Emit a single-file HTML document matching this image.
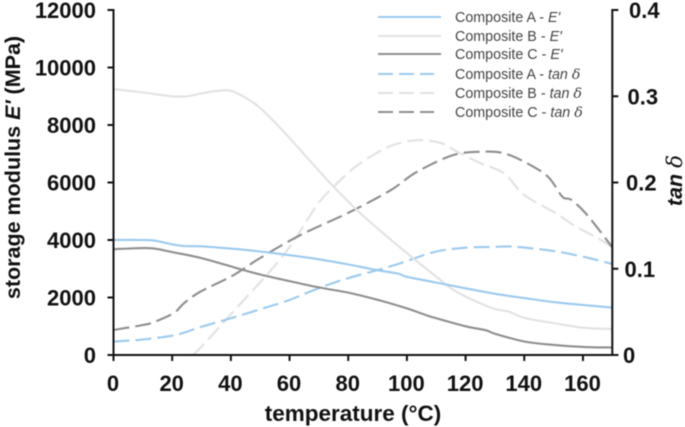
<!DOCTYPE html>
<html lang="en">
<head>
<meta charset="utf-8">
<title>Storage modulus and tan delta vs temperature</title>
<style>
html,body{margin:0;padding:0;background:#fff;width:685px;height:427px;overflow:hidden}
svg{display:block;filter:blur(0.45px)}
text{font-family:"Liberation Sans",Arial,sans-serif;fill:#111}
.tick{font-size:22px;font-weight:700}
.title{font-size:21.5px;font-weight:700}
.xtitle{font-size:22.5px;font-weight:700}
.leg{font-size:14.3px;fill:#444}
</style>
</head>
<body>
<svg id="chart" width="685" height="427" viewBox="0 0 685 427" xmlns="http://www.w3.org/2000/svg">
  <text class="title" transform="translate(20 167.5) rotate(-90)" text-anchor="middle">storage modulus <tspan font-style="italic">E'</tspan> (MPa)</text>
  <text class="title" transform="translate(682 180.5) rotate(-90)" text-anchor="middle" font-style="italic">tan <tspan font-family="'DejaVu Serif',serif" font-weight="400">δ</tspan></text>
  <text class="xtitle" x="353" y="421" text-anchor="middle">temperature (°C)</text>
  <g id="series"></g>
  <g id="axes"></g>
  <g id="legend"></g>
</svg>
<script>
const xTicks = [0, 20, 40, 60, 80, 100, 120, 140, 160];
const leftTicks = [0, 2000, 4000, 6000, 8000, 10000, 12000];
const rightTicks = [0, 0.1, 0.2, 0.3, 0.4];
const rightTickLabels = ['0', '0.1', '0.2', '0.3', '0.4'];

const tempA_E = [0, 10, 14, 20, 24, 30, 40, 50, 60, 70, 80, 90, 97, 100, 110, 120, 130, 140, 150, 160, 170];
const modA_E = [4000, 4000, 3980, 3850, 3790, 3780, 3700, 3600, 3470, 3330, 3150, 2950, 2830, 2720, 2520, 2320, 2130, 1980, 1840, 1740, 1650];

const tempB_E = [0, 10, 20, 25, 30, 35, 40, 45, 50, 58, 70, 75, 83, 90, 102, 110, 115, 120, 125, 130, 135, 140, 150, 160, 170];
const modB_E = [9250, 9130, 9000, 9000, 9100, 9180, 9190, 8950, 8590, 7767, 6409, 5854, 5040, 4400, 3374, 2724, 2320, 2030, 1800, 1600, 1500, 1290, 1110, 950, 900];

const tempC_E = [0, 10, 14, 20, 30, 40, 50, 60, 70, 80, 90, 100, 107, 110, 120, 127, 130, 140, 150, 160, 170];
const modC_E = [3680, 3720, 3700, 3580, 3370, 3080, 2800, 2570, 2350, 2170, 1920, 1620, 1370, 1280, 1000, 860, 740, 470, 350, 280, 260];

const tempA_T = [0, 10, 20, 25, 30, 40, 50, 60, 70, 80, 90, 97, 100, 110, 120, 130, 135, 140, 150, 160, 170];
const tanA = [0.0155, 0.018, 0.0224, 0.027, 0.0328, 0.0425, 0.053, 0.0638, 0.0776, 0.089, 0.0985, 0.1055, 0.109, 0.12, 0.1244, 0.1255, 0.1258, 0.1245, 0.1206, 0.114, 0.1055];

const tempB_T = [27, 30, 40.4, 58, 69.4, 75, 82, 88.6, 95.4, 103.5, 111.4, 117, 125, 133, 140, 151, 157, 165, 170];
const tanB = [0, 0.0096, 0.0487, 0.116, 0.174, 0.195, 0.217, 0.232, 0.2435, 0.249, 0.246, 0.236, 0.2224, 0.211, 0.1855, 0.164, 0.15, 0.1355, 0.125];

const tempC_T = [0, 10, 13.7, 20.6, 24, 29.6, 41, 50, 63.7, 80.7, 94.4, 103.5, 116, 126, 133, 140, 148, 153, 156, 161.5, 170];
const tanC = [0.029, 0.0348, 0.038, 0.0487, 0.06, 0.0734, 0.0928, 0.1125, 0.139, 0.166, 0.191, 0.2125, 0.232, 0.2357, 0.234, 0.224, 0.207, 0.1835, 0.18, 0.162, 0.125];

const legendLabels = ['Composite A - ', 'Composite B - ', 'Composite C - ', 'Composite A - ', 'Composite B - ', 'Composite C - '];

const NS = 'http://www.w3.org/2000/svg';
const X0 = 113.5, X1 = 612.3, Y0 = 355, Y1 = 10;
const sx = v => X0 + (v / 170) * (X1 - X0);
const syL = v => Y0 - (v / 12000) * (Y0 - Y1);
const syR = v => Y0 - (v / 0.4) * (Y0 - Y1);

function mk(tag, attrs, parent) {
  const el = document.createElementNS(NS, tag);
  for (const k in attrs) el.setAttribute(k, attrs[k]);
  parent.appendChild(el);
  return el;
}

/* Smooth curve through the mapped data points (Catmull-Rom to Bezier). */
function smoothPath(xs, ys, scale) {
  const p = xs.map((x, i) => [sx(x), scale(ys[i])]);
  let d = 'M' + p[0][0].toFixed(1) + ' ' + p[0][1].toFixed(1);
  for (let i = 0; i < p.length - 1; i++) {
    const a = p[Math.max(i - 1, 0)], b = p[i], c = p[i + 1], e = p[Math.min(i + 2, p.length - 1)];
    const c1x = b[0] + (c[0] - a[0]) / 6, c1y = b[1] + (c[1] - a[1]) / 6;
    const c2x = c[0] - (e[0] - b[0]) / 6, c2y = c[1] - (e[1] - b[1]) / 6;
    d += 'C' + c1x.toFixed(1) + ' ' + c1y.toFixed(1) + ' ' + c2x.toFixed(1) + ' ' + c2y.toFixed(1) + ' ' + c[0].toFixed(1) + ' ' + c[1].toFixed(1);
  }
  return d;
}

const BLUE = '#9ccaee', LIGHT = '#e2e2e2', DARK = '#8e8e8e';
const seriesGroup = document.getElementById('series');
const seriesDefs = [
  { name: 'composite-b-tan-delta', xs: tempB_T, ys: tanB, scale: syR, color: LIGHT, dash: '16 6' },
  { name: 'composite-a-tan-delta', xs: tempA_T, ys: tanA, scale: syR, color: BLUE, dash: '16 6' },
  { name: 'composite-c-tan-delta', xs: tempC_T, ys: tanC, scale: syR, color: DARK, dash: '16 6' },
  { name: 'composite-b-modulus', xs: tempB_E, ys: modB_E, scale: syL, color: LIGHT, dash: '' },
  { name: 'composite-a-modulus', xs: tempA_E, ys: modA_E, scale: syL, color: BLUE, dash: '' },
  { name: 'composite-c-modulus', xs: tempC_E, ys: modC_E, scale: syL, color: DARK, dash: '' }
];
seriesDefs.forEach(s => {
  const line = mk('path', { d: smoothPath(s.xs, s.ys, s.scale), fill: 'none', stroke: s.color, 'stroke-width': 2.1, 'stroke-linejoin': 'round' }, seriesGroup);
  if (s.dash) line.setAttribute('stroke-dasharray', s.dash);
  
  
});

const axes = document.getElementById('axes');
const axisStyle = { stroke: '#111', 'stroke-width': 2 };
const leftAxis = mk('line', { x1: X0, x2: X0, y1: Y1 - 1, y2: Y0 + 6, ...axisStyle }, axes);


const rightAxis = mk('line', { x1: X1, x2: X1, y1: Y1 - 1, y2: Y0 + 1, ...axisStyle }, axes);


const xAxis = mk('line', { x1: X0 - 6, x2: X1 + 6, y1: Y0, y2: Y0, ...axisStyle }, axes);



xTicks.forEach(v => {
  mk('line', { x1: sx(v), x2: sx(v), y1: Y0, y2: Y0 + 6, ...axisStyle }, axes);
  const t = mk('text', { class: 'tick', x: sx(v) - 0.5, y: 391, 'text-anchor': 'middle' }, axes);
  t.textContent = v;
  
  
});
leftTicks.forEach(v => {
  mk('line', { x1: X0 - 6, x2: X0, y1: syL(v), y2: syL(v), ...axisStyle }, axes);
  const t = mk('text', { class: 'tick', x: 96, y: syL(v) + 8, 'text-anchor': 'end' }, axes);
  t.textContent = v;
  
  
});
rightTicks.forEach((v, i) => {
  mk('line', { x1: X1, x2: X1 + 6, y1: syR(v), y2: syR(v), ...axisStyle }, axes);
  const t = mk('text', { class: 'tick', x: 623 + v * 15, y: syR(v) + 8 }, axes);
  t.textContent = rightTickLabels[i];
  
  
});

const legend = document.getElementById('legend');
const legendColors = [BLUE, LIGHT, DARK, BLUE, LIGHT, DARK];
const legendRows = [17, 36, 54, 74, 93, 112];
legendRows.forEach((y, i) => {
  const dashed = i > 2;
  const sw = mk('line', { x1: 378, x2: dashed ? 434 : 441, y1: y, y2: y, stroke: legendColors[i], 'stroke-width': 2.1 }, legend);
  if (dashed) sw.setAttribute('stroke-dasharray', '15 6');
  
  
  const t = mk('text', { class: 'leg', x: 455, y: y + 5 }, legend);
  
  
  t.appendChild(document.createTextNode(legendLabels[i]));
  const em = mk('tspan', { 'font-style': 'italic' }, t);
  em.textContent = dashed ? 'tan ' : "E'";
  if (dashed) {
    const d = mk('tspan', { 'font-style': 'italic', 'font-family': "'DejaVu Serif',serif" }, t);
    d.textContent = 'δ';
  }
});
</script>
</body>
</html>
